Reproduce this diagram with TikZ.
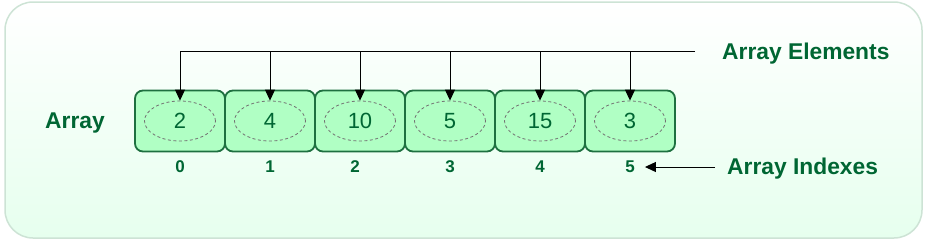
\documentclass[tikz,border=0pt]{standalone}
\usepackage{fontspec}
\setmainfont{Liberation Sans}
\usetikzlibrary{arrows.meta,shapes.geometric}
\definecolor{dkgreen}{HTML}{006633}
\definecolor{boxfill}{HTML}{B0FFC4}
\definecolor{boxline}{HTML}{1E7040}
\definecolor{outline}{HTML}{CDE3D5}
\definecolor{bgbot}{HTML}{E6FFEE}
\tikzset{
  cell/.style={draw=boxline, line width=1.8pt, fill=boxfill, rounded corners=8pt,
    minimum width=90pt, minimum height=61pt, inner sep=0pt},
  oval/.style={ellipse, draw=gray!90!black, dashed, dash pattern=on 3pt off 2.5pt,
    line width=0.8pt, minimum width=71pt, minimum height=40pt, inner sep=0pt,
    text=dkgreen, font=\fontsize{22}{25}\selectfont},
  idx/.style={text=dkgreen, font=\bfseries\fontsize{17}{20}\selectfont, inner sep=0pt},
  lbl/.style={text=dkgreen, font=\bfseries\fontsize{22.8}{26}\selectfont, inner sep=0pt, anchor=base west},
  arr/.style={line width=1pt, -{Triangle[length=11pt,width=10pt]}},
}
\begin{document}
\begin{tikzpicture}[x=1pt,y=-1pt]
\useasboundingbox (0,0) rectangle (927,242);
\draw[outline, line width=1.5pt, rounded corners=28pt, top color=white, bottom color=bgbot]
  (5,2) rectangle (922,238);
\foreach \v [count=\i from 0] in {2,4,10,5,15,3} {
  \node[cell] (b\i) at ({180+90*\i},121) {};
  \node[oval] (e\i) at ({180+90*\i},121) {\v};
}
\node[idx] (i0) at (180,167) {0};
\node[idx] (i1) at (270,167) {1};
\node[idx] (i2) at (355,167) {2};
\node[idx] (i3) at (450,167) {3};
\node[idx] (i4) at (540,167) {4};
\node[idx] (i5) at (630,167) {5};
\node[lbl] (arrlbl) at (45,128) {Array};
\node[lbl] (elem) at (722,59) {Array Elements};
\node[lbl] (indx) at (727,174.5) {Array Indexes};
\coordinate (top) at (695,51);
\coordinate (idxstart) at (715,167);
\draw[arr] (top) -| (e0.north);
\foreach \i in {1,...,5} {
  \draw[arr] (e\i.north |- top) -- (e\i.north);
}
\draw[arr] (idxstart) -- ([xshift=10pt]i5.east);
\end{tikzpicture}
\end{document}
